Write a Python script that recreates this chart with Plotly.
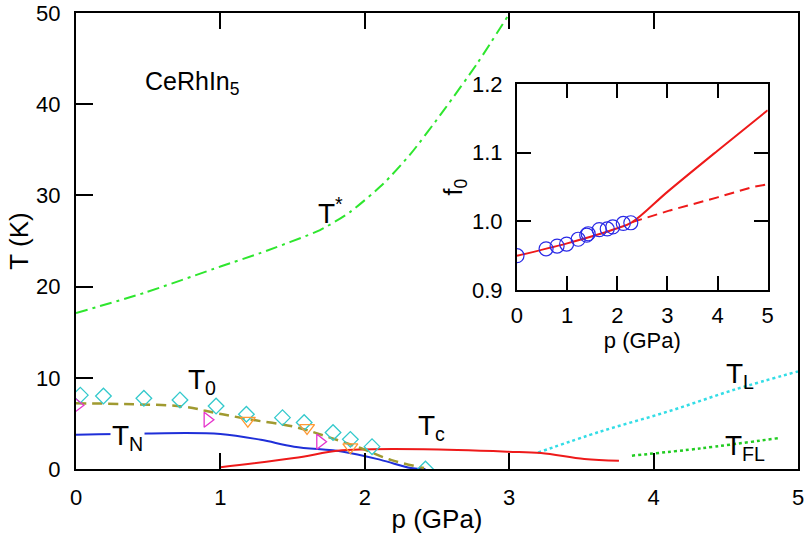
import plotly.graph_objects as go

FONT = "Liberation Sans, Arial, Helvetica, sans-serif"

# ---------------- main panel data ----------------
tstar_p = [0.0, 0.47, 1.0, 1.28, 1.69, 1.9, 2.13, 2.32, 2.55, 2.78, 3.0]
tstar_T = [17.1, 19.3, 22.2, 23.7, 26.2, 28.2, 31.3, 34.6, 39.4, 44.5, 49.9]

t0_p = [0.0, 0.4, 0.74, 0.98, 1.23, 1.51, 1.74, 1.97, 2.18, 2.41]
t0_T = [7.2, 7.1, 6.85, 6.1, 5.37, 4.64, 3.54, 2.3, 1.0, 0.1]

tn_p = [0.0, 0.5, 1.0, 1.28, 1.51, 1.85, 2.11, 2.32, 2.42]
tn_T = [3.75, 3.9, 3.84, 3.2, 2.45, 1.9, 1.0, 0.1, 0.0]

tc_p = [1.0, 1.51, 1.81, 2.0, 2.41, 2.99, 3.22, 3.52, 3.76]
tc_T = [0.2, 1.2, 2.0, 2.15, 2.16, 1.9, 1.75, 1.1, 0.9]

tl_p = [3.2, 3.63, 4.1, 4.56, 5.0]
tl_T = [1.8, 4.1, 6.3, 8.7, 10.7]

tfl_p = [3.85, 4.33, 4.87]
tfl_T = [1.46, 2.27, 3.4]

diam_p = [0.03, 0.19, 0.47, 0.72, 0.97, 1.18, 1.43, 1.58, 1.78, 1.9, 2.05, 2.42]
diam_T = [8.1, 8.0, 7.75, 7.57, 6.9, 6.0, 5.63, 5.1, 4.0, 3.25, 2.45, 0.0]

rtri_p = [0.01, 0.91, 1.69]
rtri_T = [7.0, 5.4, 3.0]

dtri_p = [1.19, 1.6, 1.9]
dtri_T = [5.3, 4.5, 2.4]

# ---------------- inset data ----------------
f0_p = [0.0, 0.58, 0.80, 0.99, 1.22, 1.39, 1.42, 1.64, 1.8, 1.91, 2.12, 2.27]
f0_v = [0.950, 0.960, 0.964, 0.967, 0.974, 0.980, 0.982, 0.988, 0.989, 0.992, 0.997, 0.998]

fit_p = [0.0, 1.0, 2.0, 2.3, 3.0, 4.0, 5.0]
fit_v = [0.950, 0.968, 0.990, 0.999, 1.043, 1.103, 1.162]

fitd_p = [2.3, 3.05, 4.0, 4.7, 5.0]
fitd_v = [0.999, 1.016, 1.035, 1.050, 1.054]

x_ticks = [0, 1, 2, 3, 4, 5]
y_ticks = [0, 10, 20, 30, 40, 50]
inset_y_ticks = [0.9, 1.0, 1.1, 1.2]
inset_y_labels = ["0.9", "1.0", "1.1", "1.2"]

fig = go.Figure()

fig.add_trace(go.Scatter(x=tstar_p, y=tstar_T, mode="lines", name="T*",
                         line=dict(color="#2ee62e", width=2, dash="12px,5px,3px,5px",
                                   shape="spline", smoothing=0.6)))
fig.add_trace(go.Scatter(x=tl_p, y=tl_T, mode="lines", name="TL",
                         line=dict(color="#33dde6", width=2.5, dash="dot", shape="spline")))
fig.add_trace(go.Scatter(x=tfl_p, y=tfl_T, mode="lines", name="TFL",
                         line=dict(color="#22cc22", width=2.5, dash="dot", shape="spline")))
fig.add_trace(go.Scatter(x=tn_p, y=tn_T, mode="lines", name="TN",
                         line=dict(color="#1f2fd8", width=2, shape="spline")))
fig.add_trace(go.Scatter(x=tc_p, y=tc_T, mode="lines", name="Tc",
                         line=dict(color="#ee1a1a", width=2, shape="spline")))
fig.add_trace(go.Scatter(x=t0_p, y=t0_T, mode="lines", name="T0",
                         line=dict(color="#a09a30", width=2.5, dash="10px,6px", shape="spline")))
fig.add_trace(go.Scatter(x=diam_p, y=diam_T, mode="markers", name="diamonds",
                         marker=dict(symbol="diamond-open", size=12, color="#33c9cc",
                                     line=dict(width=1.3))))
fig.add_trace(go.Scatter(x=rtri_p, y=rtri_T, mode="markers", name="right triangles",
                         marker=dict(symbol="triangle-right-open", size=13, color="#e633cc",
                                     line=dict(width=1.3))))
fig.add_trace(go.Scatter(x=dtri_p, y=dtri_T, mode="markers", name="down triangles",
                         marker=dict(symbol="triangle-down-open", size=13, color="#ff9933",
                                     line=dict(width=1.3))))

# inset
fig.add_trace(go.Scatter(x=fitd_p, y=fitd_v, mode="lines", xaxis="x2", yaxis="y2",
                         line=dict(color="#ee1a1a", width=2, dash="10px,6px")))
fig.add_trace(go.Scatter(x=fit_p, y=fit_v, mode="lines", xaxis="x2", yaxis="y2",
                         line=dict(color="#ee1a1a", width=2, shape="spline")))
fig.add_trace(go.Scatter(x=f0_p, y=f0_v, mode="markers", xaxis="x2", yaxis="y2",
                         marker=dict(symbol="circle-open", size=14, color="#2a2ae6",
                                     line=dict(width=1.2))))

ax_common = dict(showgrid=False, zeroline=False, showline=True, linecolor="black",
                 linewidth=2, ticks="inside", tickcolor="black", tickwidth=1.5,
                 automargin=False, ticklabeloverflow="allow",
                 tickfont=dict(family=FONT, size=22, color="black"))

fig.update_layout(
    width=808, height=540,
    margin=dict(l=76, r=10, t=13, b=71),
    paper_bgcolor="white", plot_bgcolor="white",
    showlegend=False,
    font=dict(family=FONT, color="black"),
    xaxis=dict(**ax_common, range=[0, 5], tickvals=x_ticks, ticklen=16, mirror="ticks",
               ticklabelstandoff=8,
               title=dict(text="p (GPa)", font=dict(size=26), standoff=0)),
    yaxis=dict(**ax_common, range=[0, 50], tickvals=y_ticks, ticklen=17, mirror=True,
               ticklabelstandoff=9,
               title=dict(text="T (K)", font=dict(size=26), standoff=0)),
    xaxis2=dict(**ax_common, domain=[0.6108, 0.958], anchor="y2", range=[0, 5],
                tickvals=x_ticks, ticklen=14, mirror="ticks", ticklabelstandoff=5,
                title=dict(text="p (GPa)", font=dict(size=22), standoff=4)),
    yaxis2=dict(**ax_common, domain=[0.3925, 0.844], anchor="x2", range=[0.9, 1.2],
                tickvals=inset_y_ticks, ticktext=inset_y_labels, ticklen=14, mirror="ticks",
                ticklabelstandoff=8,
                title=dict(text="f<sub>0</sub>", font=dict(size=25), standoff=2)),
)

# inset background
fig.add_shape(type="rect", xref="x2 domain", yref="y2 domain", x0=0, x1=1, y0=0, y1=1,
              fillcolor="white", line=dict(width=0), layer="below")

lbl = dict(showarrow=False, font=dict(family=FONT, size=28, color="black"))
fig.add_annotation(x=0.81, y=42.3, text="CeRhIn<sub>5</sub>", showarrow=False,
                   font=dict(family=FONT, size=25, color="black"))
fig.add_annotation(x=1.76, y=28.3, text="T<sup>*</sup>", **lbl)
fig.add_annotation(x=0.87, y=9.6, text="T<sub>0</sub>", **lbl)
fig.add_annotation(x=0.36, y=3.4, text="T<sub>N</sub>", bgcolor="white", **lbl)
fig.add_annotation(x=2.46, y=4.5, text="T<sub>c</sub>", **lbl)
fig.add_annotation(x=4.6, y=10.3, text="T<sub>L</sub>", **lbl)
fig.add_annotation(x=4.63, y=2.4, text="T<sub>FL</sub>", **lbl)

# remove the browser's default 8px body margin so the figure sits at the page origin
fig.write_html("out.html", config={"displayModeBar": False},
               post_script="document.body.style.margin='0';")
